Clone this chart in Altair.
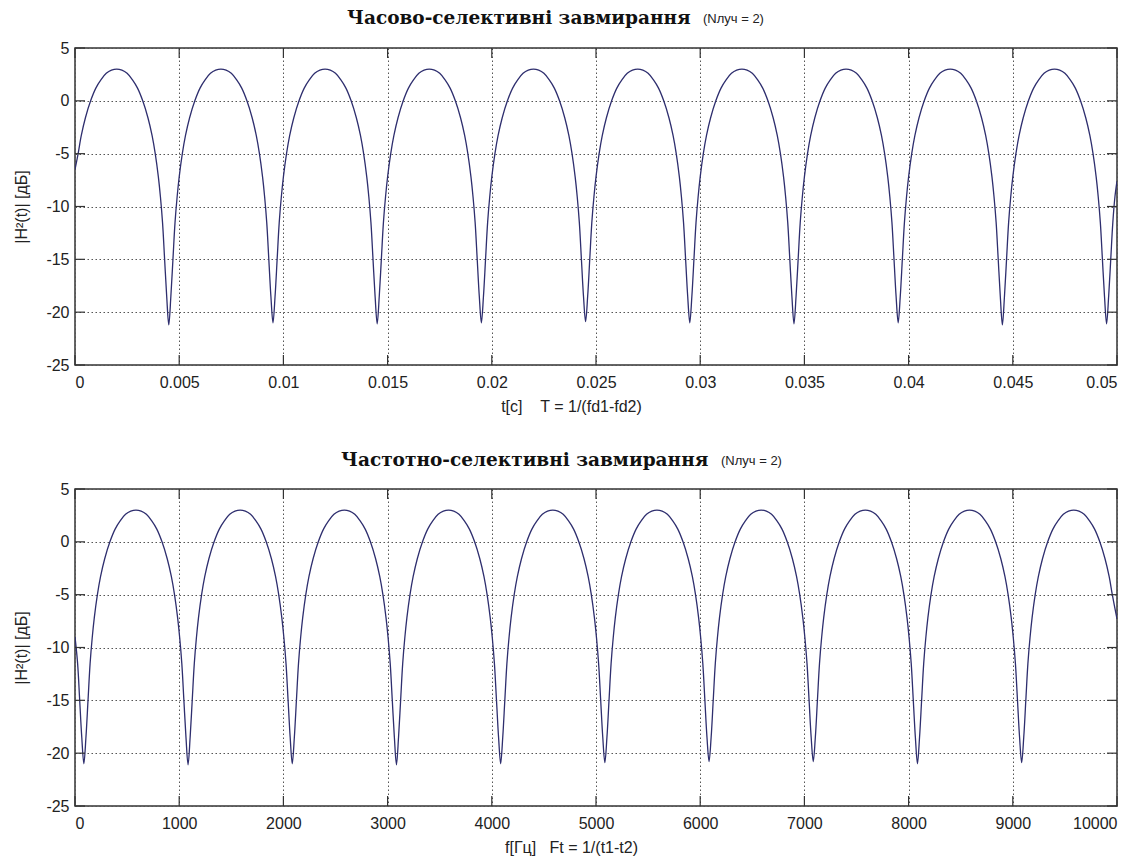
import altair as alt
import pandas as pd

# ---------------- data ----------------
# top panel: time in milliseconds, |H^2(t)| in dB
top_t_ms = [
    0, 0.15, 0.3, 0.5, 0.75, 1.0, 1.25, 1.5, 1.75,
    2, 2.25, 2.5, 2.75, 3, 3.25, 3.5, 3.7, 3.85, 4, 4.1, 4.2, 4.3, 4.4, 4.5, 4.6, 4.7, 4.8, 4.9, 5, 5.15, 5.3, 5.5, 5.75, 6, 6.25, 6.5, 6.75,
    7, 7.25, 7.5, 7.75, 8, 8.25, 8.5, 8.7, 8.85, 9, 9.1, 9.2, 9.3, 9.4, 9.5, 9.6, 9.7, 9.8, 9.9, 10, 10.15, 10.3, 10.5, 10.75, 11, 11.25, 11.5, 11.75,
    12, 12.25, 12.5, 12.75, 13, 13.25, 13.5, 13.7, 13.85, 14, 14.1, 14.2, 14.3, 14.4, 14.5, 14.6, 14.7, 14.8, 14.9, 15, 15.15, 15.3, 15.5, 15.75, 16, 16.25, 16.5, 16.75,
    17, 17.25, 17.5, 17.75, 18, 18.25, 18.5, 18.7, 18.85, 19, 19.1, 19.2, 19.3, 19.4, 19.5, 19.6, 19.7, 19.8, 19.9, 20, 20.15, 20.3, 20.5, 20.75, 21, 21.25, 21.5, 21.75,
    22, 22.25, 22.5, 22.75, 23, 23.25, 23.5, 23.7, 23.85, 24, 24.1, 24.2, 24.3, 24.4, 24.5, 24.6, 24.7, 24.8, 24.9, 25, 25.15, 25.3, 25.5, 25.75, 26, 26.25, 26.5, 26.75,
    27, 27.25, 27.5, 27.75, 28, 28.25, 28.5, 28.7, 28.85, 29, 29.1, 29.2, 29.3, 29.4, 29.5, 29.6, 29.7, 29.8, 29.9, 30, 30.15, 30.3, 30.5, 30.75, 31, 31.25, 31.5, 31.75,
    32, 32.25, 32.5, 32.75, 33, 33.25, 33.5, 33.7, 33.85, 34, 34.1, 34.2, 34.3, 34.4, 34.5, 34.6, 34.7, 34.8, 34.9, 35, 35.15, 35.3, 35.5, 35.75, 36, 36.25, 36.5, 36.75,
    37, 37.25, 37.5, 37.75, 38, 38.25, 38.5, 38.7, 38.85, 39, 39.1, 39.2, 39.3, 39.4, 39.5, 39.6, 39.7, 39.8, 39.9, 40, 40.15, 40.3, 40.5, 40.75, 41, 41.25, 41.5, 41.75,
    42, 42.25, 42.5, 42.75, 43, 43.25, 43.5, 43.7, 43.85, 44, 44.1, 44.2, 44.3, 44.4, 44.5, 44.6, 44.7, 44.8, 44.9, 45, 45.15, 45.3, 45.5, 45.75, 46, 46.25, 46.5, 46.75,
    47, 47.25, 47.5, 47.75, 48, 48.25, 48.5, 48.7, 48.85, 49, 49.1, 49.2, 49.3, 49.4, 49.5, 49.6, 49.7, 49.8, 49.9, 50,
]
top_db = [
    -6.5, -5.0, -3.3, -1.6, 0.0, 1.2, 2.0, 2.6, 2.9,
    3.0, 2.9, 2.6, 2.0, 1.2, 0.0, -1.6, -3.3, -5.0, -7.2, -9.1, -11.5, -15.0, -18.5, -21.2, -18.5, -15.0, -11.5, -9.1, -7.2, -5.0, -3.3, -1.6, 0.0, 1.2, 2.0, 2.6, 2.9,
    3.0, 2.9, 2.6, 2.0, 1.2, 0.0, -1.6, -3.3, -5.0, -7.2, -9.1, -11.5, -15.0, -18.5, -21.0, -18.5, -15.0, -11.5, -9.1, -7.2, -5.0, -3.3, -1.6, 0.0, 1.2, 2.0, 2.6, 2.9,
    3.0, 2.9, 2.6, 2.0, 1.2, 0.0, -1.6, -3.3, -5.0, -7.2, -9.1, -11.5, -15.0, -18.5, -21.1, -18.5, -15.0, -11.5, -9.1, -7.2, -5.0, -3.3, -1.6, 0.0, 1.2, 2.0, 2.6, 2.9,
    3.0, 2.9, 2.6, 2.0, 1.2, 0.0, -1.6, -3.3, -5.0, -7.2, -9.1, -11.5, -15.0, -18.5, -21.0, -18.5, -15.0, -11.5, -9.1, -7.2, -5.0, -3.3, -1.6, 0.0, 1.2, 2.0, 2.6, 2.9,
    3.0, 2.9, 2.6, 2.0, 1.2, 0.0, -1.6, -3.3, -5.0, -7.2, -9.1, -11.5, -15.0, -18.5, -20.9, -18.5, -15.0, -11.5, -9.1, -7.2, -5.0, -3.3, -1.6, 0.0, 1.2, 2.0, 2.6, 2.9,
    3.0, 2.9, 2.6, 2.0, 1.2, 0.0, -1.6, -3.3, -5.0, -7.2, -9.1, -11.5, -15.0, -18.5, -21.0, -18.5, -15.0, -11.5, -9.1, -7.2, -5.0, -3.3, -1.6, 0.0, 1.2, 2.0, 2.6, 2.9,
    3.0, 2.9, 2.6, 2.0, 1.2, 0.0, -1.6, -3.3, -5.0, -7.2, -9.1, -11.5, -15.0, -18.5, -21.1, -18.5, -15.0, -11.5, -9.1, -7.2, -5.0, -3.3, -1.6, 0.0, 1.2, 2.0, 2.6, 2.9,
    3.0, 2.9, 2.6, 2.0, 1.2, 0.0, -1.6, -3.3, -5.0, -7.2, -9.1, -11.5, -15.0, -18.5, -21.0, -18.5, -15.0, -11.5, -9.1, -7.2, -5.0, -3.3, -1.6, 0.0, 1.2, 2.0, 2.6, 2.9,
    3.0, 2.9, 2.6, 2.0, 1.2, 0.0, -1.6, -3.3, -5.0, -7.2, -9.1, -11.5, -15.0, -18.5, -21.2, -18.5, -15.0, -11.5, -9.1, -7.2, -5.0, -3.3, -1.6, 0.0, 1.2, 2.0, 2.6, 2.9,
    3.0, 2.9, 2.6, 2.0, 1.2, 0.0, -1.6, -3.3, -5.0, -7.2, -9.1, -11.5, -15.0, -18.5, -21.1, -18.5, -15.0, -11.5, -9.1, -7.6,
]

# bottom panel: frequency in Hz, |H^2(f)| in dB
bot_f_hz = [
    0, 25, 45, 65, 85, 105, 125, 145, 165, 185, 215, 245, 285, 335, 385, 435, 485, 535,
    585, 635, 685, 735, 785, 835, 885, 925, 955, 985, 1005, 1025, 1045, 1065, 1085, 1105, 1125, 1145, 1165, 1185, 1215, 1245, 1285, 1335, 1385, 1435, 1485, 1535,
    1585, 1635, 1685, 1735, 1785, 1835, 1885, 1925, 1955, 1985, 2005, 2025, 2045, 2065, 2085, 2105, 2125, 2145, 2165, 2185, 2215, 2245, 2285, 2335, 2385, 2435, 2485, 2535,
    2585, 2635, 2685, 2735, 2785, 2835, 2885, 2925, 2955, 2985, 3005, 3025, 3045, 3065, 3085, 3105, 3125, 3145, 3165, 3185, 3215, 3245, 3285, 3335, 3385, 3435, 3485, 3535,
    3585, 3635, 3685, 3735, 3785, 3835, 3885, 3925, 3955, 3985, 4005, 4025, 4045, 4065, 4085, 4105, 4125, 4145, 4165, 4185, 4215, 4245, 4285, 4335, 4385, 4435, 4485, 4535,
    4585, 4635, 4685, 4735, 4785, 4835, 4885, 4925, 4955, 4985, 5005, 5025, 5045, 5065, 5085, 5105, 5125, 5145, 5165, 5185, 5215, 5245, 5285, 5335, 5385, 5435, 5485, 5535,
    5585, 5635, 5685, 5735, 5785, 5835, 5885, 5925, 5955, 5985, 6005, 6025, 6045, 6065, 6085, 6105, 6125, 6145, 6165, 6185, 6215, 6245, 6285, 6335, 6385, 6435, 6485, 6535,
    6585, 6635, 6685, 6735, 6785, 6835, 6885, 6925, 6955, 6985, 7005, 7025, 7045, 7065, 7085, 7105, 7125, 7145, 7165, 7185, 7215, 7245, 7285, 7335, 7385, 7435, 7485, 7535,
    7585, 7635, 7685, 7735, 7785, 7835, 7885, 7925, 7955, 7985, 8005, 8025, 8045, 8065, 8085, 8105, 8125, 8145, 8165, 8185, 8215, 8245, 8285, 8335, 8385, 8435, 8485, 8535,
    8585, 8635, 8685, 8735, 8785, 8835, 8885, 8925, 8955, 8985, 9005, 9025, 9045, 9065, 9085, 9105, 9125, 9145, 9165, 9185, 9215, 9245, 9285, 9335, 9385, 9435, 9485, 9535,
    9585, 9635, 9685, 9735, 9785, 9835, 9885, 9925, 9955, 10000,
]
bot_db = [
    -9.0, -11.5, -15.0, -18.5, -21.0, -18.5, -15.0, -11.5, -9.1, -7.2, -5.0, -3.3, -1.6, 0.0, 1.2, 2.0, 2.6, 2.9,
    3.0, 2.9, 2.6, 2.0, 1.2, 0.0, -1.6, -3.3, -5.0, -7.2, -9.1, -11.5, -15.0, -18.5, -21.1, -18.5, -15.0, -11.5, -9.1, -7.2, -5.0, -3.3, -1.6, 0.0, 1.2, 2.0, 2.6, 2.9,
    3.0, 2.9, 2.6, 2.0, 1.2, 0.0, -1.6, -3.3, -5.0, -7.2, -9.1, -11.5, -15.0, -18.5, -21.0, -18.5, -15.0, -11.5, -9.1, -7.2, -5.0, -3.3, -1.6, 0.0, 1.2, 2.0, 2.6, 2.9,
    3.0, 2.9, 2.6, 2.0, 1.2, 0.0, -1.6, -3.3, -5.0, -7.2, -9.1, -11.5, -15.0, -18.5, -21.1, -18.5, -15.0, -11.5, -9.1, -7.2, -5.0, -3.3, -1.6, 0.0, 1.2, 2.0, 2.6, 2.9,
    3.0, 2.9, 2.6, 2.0, 1.2, 0.0, -1.6, -3.3, -5.0, -7.2, -9.1, -11.5, -15.0, -18.5, -21.0, -18.5, -15.0, -11.5, -9.1, -7.2, -5.0, -3.3, -1.6, 0.0, 1.2, 2.0, 2.6, 2.9,
    3.0, 2.9, 2.6, 2.0, 1.2, 0.0, -1.6, -3.3, -5.0, -7.2, -9.1, -11.5, -15.0, -18.5, -20.9, -18.5, -15.0, -11.5, -9.1, -7.2, -5.0, -3.3, -1.6, 0.0, 1.2, 2.0, 2.6, 2.9,
    3.0, 2.9, 2.6, 2.0, 1.2, 0.0, -1.6, -3.3, -5.0, -7.2, -9.1, -11.5, -15.0, -18.5, -20.8, -18.5, -15.0, -11.5, -9.1, -7.2, -5.0, -3.3, -1.6, 0.0, 1.2, 2.0, 2.6, 2.9,
    3.0, 2.9, 2.6, 2.0, 1.2, 0.0, -1.6, -3.3, -5.0, -7.2, -9.1, -11.5, -15.0, -18.5, -20.8, -18.5, -15.0, -11.5, -9.1, -7.2, -5.0, -3.3, -1.6, 0.0, 1.2, 2.0, 2.6, 2.9,
    3.0, 2.9, 2.6, 2.0, 1.2, 0.0, -1.6, -3.3, -5.0, -7.2, -9.1, -11.5, -15.0, -18.5, -21.0, -18.5, -15.0, -11.5, -9.1, -7.2, -5.0, -3.3, -1.6, 0.0, 1.2, 2.0, 2.6, 2.9,
    3.0, 2.9, 2.6, 2.0, 1.2, 0.0, -1.6, -3.3, -5.0, -7.2, -9.1, -11.5, -15.0, -18.5, -20.9, -18.5, -15.0, -11.5, -9.1, -7.2, -5.0, -3.3, -1.6, 0.0, 1.2, 2.0, 2.6, 2.9,
    3.0, 2.9, 2.6, 2.0, 1.2, 0.0, -1.6, -3.3, -5.0, -7.3,
]

# axis ticks and texts
top_xticks = [0, 0.005, 0.01, 0.015, 0.02, 0.025, 0.03, 0.035, 0.04, 0.045, 0.05]
bot_xticks = [0, 1000, 2000, 3000, 4000, 5000, 6000, 7000, 8000, 9000, 10000]
y_ticks = [-25, -20, -15, -10, -5, 0, 5]

NB = "\u00a0"
top_title = "Часово-селективні завмирання"
bot_title = "Частотно-селективні завмирання"
n_label = "(Nлуч = 2)"
top_xlabel = "t[c]" + NB * 4 + "T = 1/(fd1-fd2)"
bot_xlabel = "f[Гц]" + NB * 3 + "Ft = 1/(t1-t2)"
y_label = "|H²(t)| [дБ]"

# ---------------- styling ----------------
W, H = 1042, 317
LINE = "#2e2e6e"
INK = "#333333"
LABEL_FONT = "Liberation Sans"
TICK_LEN = 10


def panel(xs, ys, x_domain, x_ticks, x_title, title, title_dx, n_dx, title_dy):
    df = pd.DataFrame({"x": xs, "y": ys})
    xscale = alt.Scale(domain=x_domain, nice=False, zero=False)
    yscale = alt.Scale(domain=[-25, 5], nice=False, zero=False)
    xaxis = alt.Axis(values=x_ticks, labelExpr="datum.value + ''", title=x_title,
                     grid=True, ticks=False, tickSize=0, domain=False,
                     labelPadding=9, titleX=496, titleY=41, titleBaseline="middle",
                     titleAlign="center")
    yaxis = alt.Axis(values=y_ticks, labelExpr="datum.value + ''", title=y_label,
                     grid=True, ticks=False, tickSize=0, domain=False,
                     labelPadding=6, titleX=-54, titleY=H / 2, titleAngle=270,
                     titleBaseline="middle", titleAlign="center")
    X = alt.X("x:Q", scale=xscale, axis=xaxis)
    Y = alt.Y("y:Q", scale=yscale, axis=yaxis)

    line = alt.Chart(df).mark_line(
        interpolate="catmull-rom", color=LINE, strokeWidth=1.3, clip=True
    ).encode(x=X, y=Y)

    xt = pd.DataFrame({"x": x_ticks})
    yt = pd.DataFrame({"y": y_ticks})
    tick_style = dict(color=INK, strokeWidth=1.2)
    xb = alt.Chart(xt).mark_rule(**tick_style).encode(
        x=X, y=alt.value(H), y2=alt.value(H - TICK_LEN))
    xtop = alt.Chart(xt).mark_rule(**tick_style).encode(
        x=X, y=alt.value(0), y2=alt.value(TICK_LEN))
    yl = alt.Chart(yt).mark_rule(**tick_style).encode(
        y=Y, x=alt.value(0), x2=alt.value(TICK_LEN))
    yr = alt.Chart(yt).mark_rule(**tick_style).encode(
        y=Y, x=alt.value(W - TICK_LEN), x2=alt.value(W))

    t_main = alt.Chart(pd.DataFrame({"s": [title]})).mark_text(
        font="DejaVu Serif", fontWeight="bold", fontSize=18.5, align="left",
        baseline="middle", color="#111111"
    ).encode(x=alt.value(title_dx), y=alt.value(title_dy), text="s:N")
    t_n = alt.Chart(pd.DataFrame({"s": [n_label]})).mark_text(
        font=LABEL_FONT, fontSize=13, align="left", baseline="middle",
        color="#222222"
    ).encode(x=alt.value(n_dx), y=alt.value(title_dy + 1), text="s:N")

    return alt.layer(line, xb, xtop, yl, yr, t_main, t_n).properties(width=W, height=H)


top = panel([v / 1000 for v in top_t_ms], top_db, [0, 0.05], top_xticks, top_xlabel,
            top_title, 272, 628, -30)
bottom = panel(bot_f_hz, bot_db, [0, 10000], bot_xticks, bot_xlabel,
               bot_title, 266, 646, -29)

chart = alt.vconcat(top, bottom, spacing=124, bounds="flush").properties(
    padding={"left": 4, "top": 0, "right": 0, "bottom": 0}
).configure_view(
    stroke=INK, strokeWidth=1.5
).configure_axis(
    labelFont=LABEL_FONT, labelFontSize=16, labelColor="#222222",
    titleFont=LABEL_FONT, titleFontSize=16, titleColor="#222222", titleFontWeight="normal",
    gridColor="#555555", gridDash=[1.5, 2.5], gridWidth=1, gridOpacity=1,
)

chart.save("out.html", embed_options={"renderer": "svg", "actions": False})
